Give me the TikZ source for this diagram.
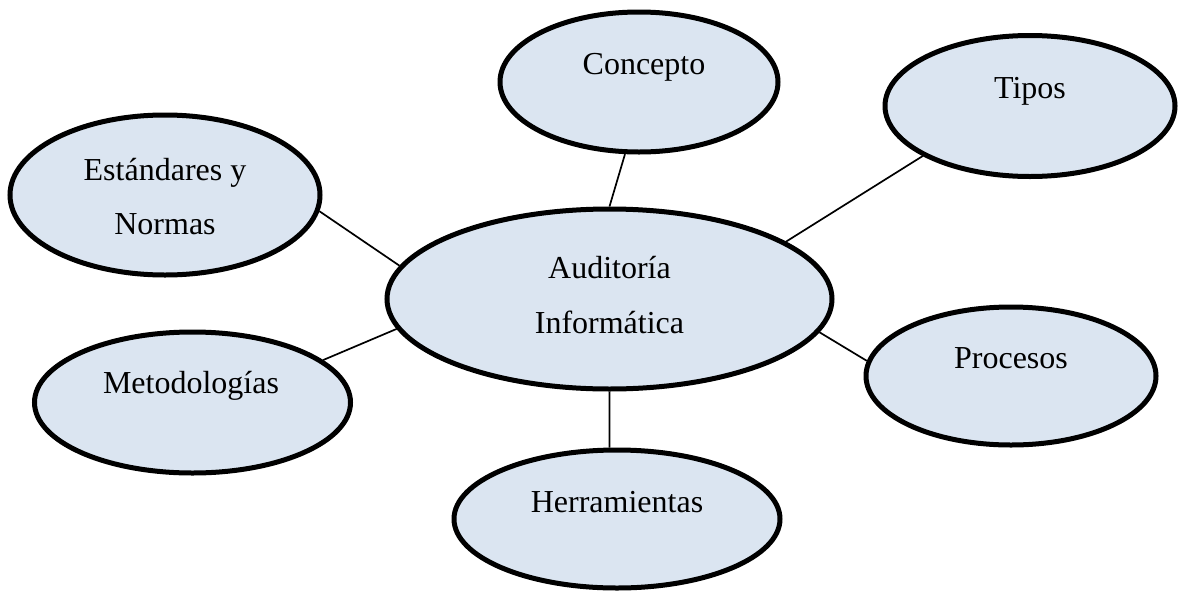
\documentclass[tikz,border=0pt]{standalone}
\usepackage{fontspec}
\setmainfont{Liberation Serif}
\usetikzlibrary{shapes.geometric}
\definecolor{bubblefill}{HTML}{DBE5F1}
\tikzset{
  bubble/.style={ellipse, draw=black, line width=5pt, fill=bubblefill, inner sep=0pt},
  label text/.style={anchor=base, inner sep=0pt, font=\fontsize{32}{40}\selectfont},
  link/.style={draw=black, line width=1.7pt}
}
\begin{document}
\begin{tikzpicture}[x=1pt, y=-1pt]
\useasboundingbox (0,0) rectangle (1181,592);

% ellipses
\node[bubble, minimum width=445pt, minimum height=180pt] (aud)  at (609.5,299) {};
\node[bubble, minimum width=278pt, minimum height=140pt] (conc) at (639,82) {};
\node[bubble, minimum width=290pt, minimum height=141pt] (tip)  at (1030,106) {};
\node[bubble, minimum width=290pt, minimum height=138pt] (proc) at (1011,376) {};
\node[bubble, minimum width=326pt, minimum height=138pt] (herr) at (617,519) {};
\node[bubble, minimum width=310pt, minimum height=160pt] (std)  at (165,195) {};
\node[bubble, minimum width=316pt, minimum height=141pt] (met)  at (192.5,402.5) {};

% labels
\node[label text] (audA)  at (609.5,278) {Auditoría};
\node[label text] (audB)  at (609.5,333) {Informática};
\node[label text] (concL) at (644,74)    {Concepto};
\node[label text] (tipL)  at (1030,98)   {Tipos};
\node[label text] (procL) at (1011,368)  {Procesos};
\node[label text] (herrL) at (617,512)   {Herramientas};
\node[label text] (metL)  at (191,393)   {Metodologías};
\node[label text] (stdA)  at (165,180)   {Estándares y};
\node[label text] (stdB)  at (165,234)   {Normas};

% connectors
\draw[link] (aud.90)   -- (conc.-101);
\draw[link] (aud.18)   -- (tip.-155);
\draw[link] (aud.-9)   -- (proc.174.5);
\draw[link] (aud.-90)  -- (herr.96.3);
\draw[link] (aud.171)  -- (std.-6);
\draw[link] (aud.-172) -- (met.18.6);
\end{tikzpicture}
\end{document}
